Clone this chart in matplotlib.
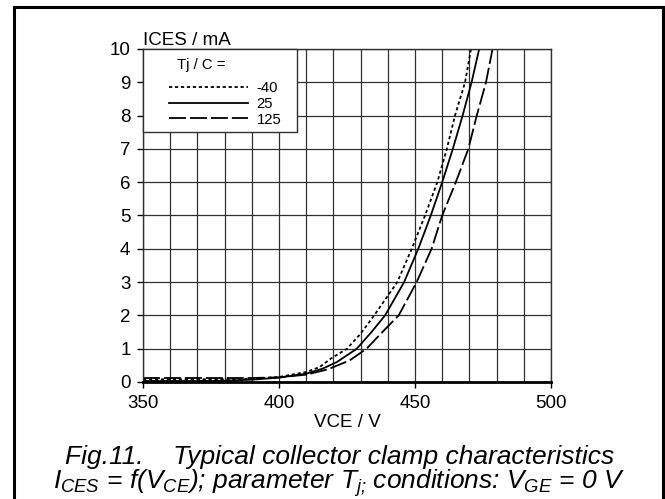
import matplotlib
matplotlib.use("Agg")
import matplotlib.pyplot as plt
from matplotlib.lines import Line2D
from matplotlib.patches import Rectangle
from matplotlib.ticker import MultipleLocator

plt.rcParams['font.family'] = ['Liberation Sans', 'DejaVu Sans']
plt.rcParams['mathtext.fontset'] = 'custom'
plt.rcParams['mathtext.it'] = 'Liberation Sans:italic'
plt.rcParams['mathtext.rm'] = 'Liberation Sans:italic'

# collector clamp curves (VCE in V, ICES in mA)
v_m40 = [350, 360, 370, 380, 390, 400, 410, 415, 419, 425, 430, 435,
         443.5, 448.8, 453.7, 458.2, 461.7, 464.7, 468.4, 470.6]
i_m40 = [0.08, 0.08, 0.08, 0.08, 0.1, 0.15, 0.3, 0.45, 0.7, 1.0, 1.45, 2.0,
         3, 4, 5, 6, 7, 8, 9, 10]

v_25 = [350, 360, 370, 380, 390, 400, 410, 416, 421.3, 428.6, 434, 439,
        446, 451.2, 455.8, 460, 463.9, 467.5, 470.8, 473.6]
i_25 = [0.03, 0.03, 0.03, 0.04, 0.07, 0.13, 0.25, 0.4, 0.6, 1.0, 1.5, 2.0,
        3, 4, 5, 6, 7, 8, 9, 10]

v_125 = [350, 360, 370, 380, 390, 400, 410, 418, 426, 432.2, 438, 444,
         450.6, 456.1, 460, 465, 469.6, 472.7, 476.1, 478.5]
i_125 = [0.12, 0.12, 0.12, 0.12, 0.12, 0.14, 0.22, 0.38, 0.65, 1.0, 1.5, 2.0,
         3, 4, 5, 6, 7, 8, 9, 10]

labels = ['-40', '25', '125']

fig = plt.figure(figsize=(6.65, 4.99), dpi=100)
ax = fig.add_axes([143 / 665, 1 - 382 / 499, 408 / 665, 333 / 499])

lw = 1.3
ax.plot(v_m40, i_m40, color='black', lw=lw, dashes=(1.8, 1.5), label=labels[0])
ax.plot(v_25, i_25, color='black', lw=lw, label=labels[1])
ax.plot(v_125, i_125, color='black', lw=lw, dashes=(9.4, 2.2), label=labels[2])

ax.set_xlim(350, 500)
ax.set_ylim(0, 10)
ax.xaxis.set_major_locator(MultipleLocator(50))
ax.xaxis.set_minor_locator(MultipleLocator(10))
ax.yaxis.set_major_locator(MultipleLocator(1))
ax.grid(True, which='both', color='#303030', lw=0.9)
ax.set_axisbelow(True)
ax.tick_params(which='minor', length=0)
ax.tick_params(which='major', direction='out', length=4, width=1,
               labelsize=13.5, pad=5)

for s in ['top', 'right', 'left']:
    ax.spines[s].set_linewidth(1)
    ax.spines[s].set_color('#303030')
ax.spines['bottom'].set_linewidth(2)

ax.set_xlabel('VCE / V', fontsize=13.5, labelpad=2)
ax.annotate('ICES / mA', xy=(0, 1), xycoords='axes fraction',
            xytext=(0, 3), textcoords='offset points',
            ha='left', va='baseline', fontsize=13.5)

# white box behind the legend
ax.add_patch(Rectangle((0, 0.75), 0.377, 0.25, transform=ax.transAxes,
                       facecolor='white', edgecolor='#303030', lw=1,
                       zorder=3, clip_on=False))
ax.text(0.083, 0.952, 'Tj / C =', transform=ax.transAxes, fontsize=10.7,
        ha='left', va='center', zorder=5)
leg = ax.legend(loc='upper left', bbox_to_anchor=(0.045, 0.926),
                frameon=False, fontsize=10.7, handlelength=5.3,
                handletextpad=0.6, labelspacing=0.12, borderpad=0)
leg.set_zorder(5)

# captions
fig.text(65 / 665, 1 - 464 / 499,
         'Fig.11.    Typical collector clamp characteristics',
         fontsize=19, style='italic', ha='left', va='baseline')
fig.text(53 / 665, 1 - 489 / 499,
         r'$I_{CES}$ = f($V_{CE}$); parameter $T_{j;}\,$conditions: $V_{GE}$ = 0 V',
         fontsize=19, style='italic', ha='left', va='baseline')

# outer frame (open at the bottom)
fw = 2.2
fig.add_artist(Line2D([13.5 / 665, 13.5 / 665], [0, 1 - 7 / 499],
                      transform=fig.transFigure, color='black', lw=fw))
fig.add_artist(Line2D([662.5 / 665, 662.5 / 665], [0, 1 - 7 / 499],
                      transform=fig.transFigure, color='black', lw=fw))
fig.add_artist(Line2D([13.5 / 665, 662.5 / 665], [1 - 7 / 499, 1 - 7 / 499],
                      transform=fig.transFigure, color='black', lw=fw,
                      solid_capstyle='projecting'))

fig.savefig('out.png', dpi=100)
